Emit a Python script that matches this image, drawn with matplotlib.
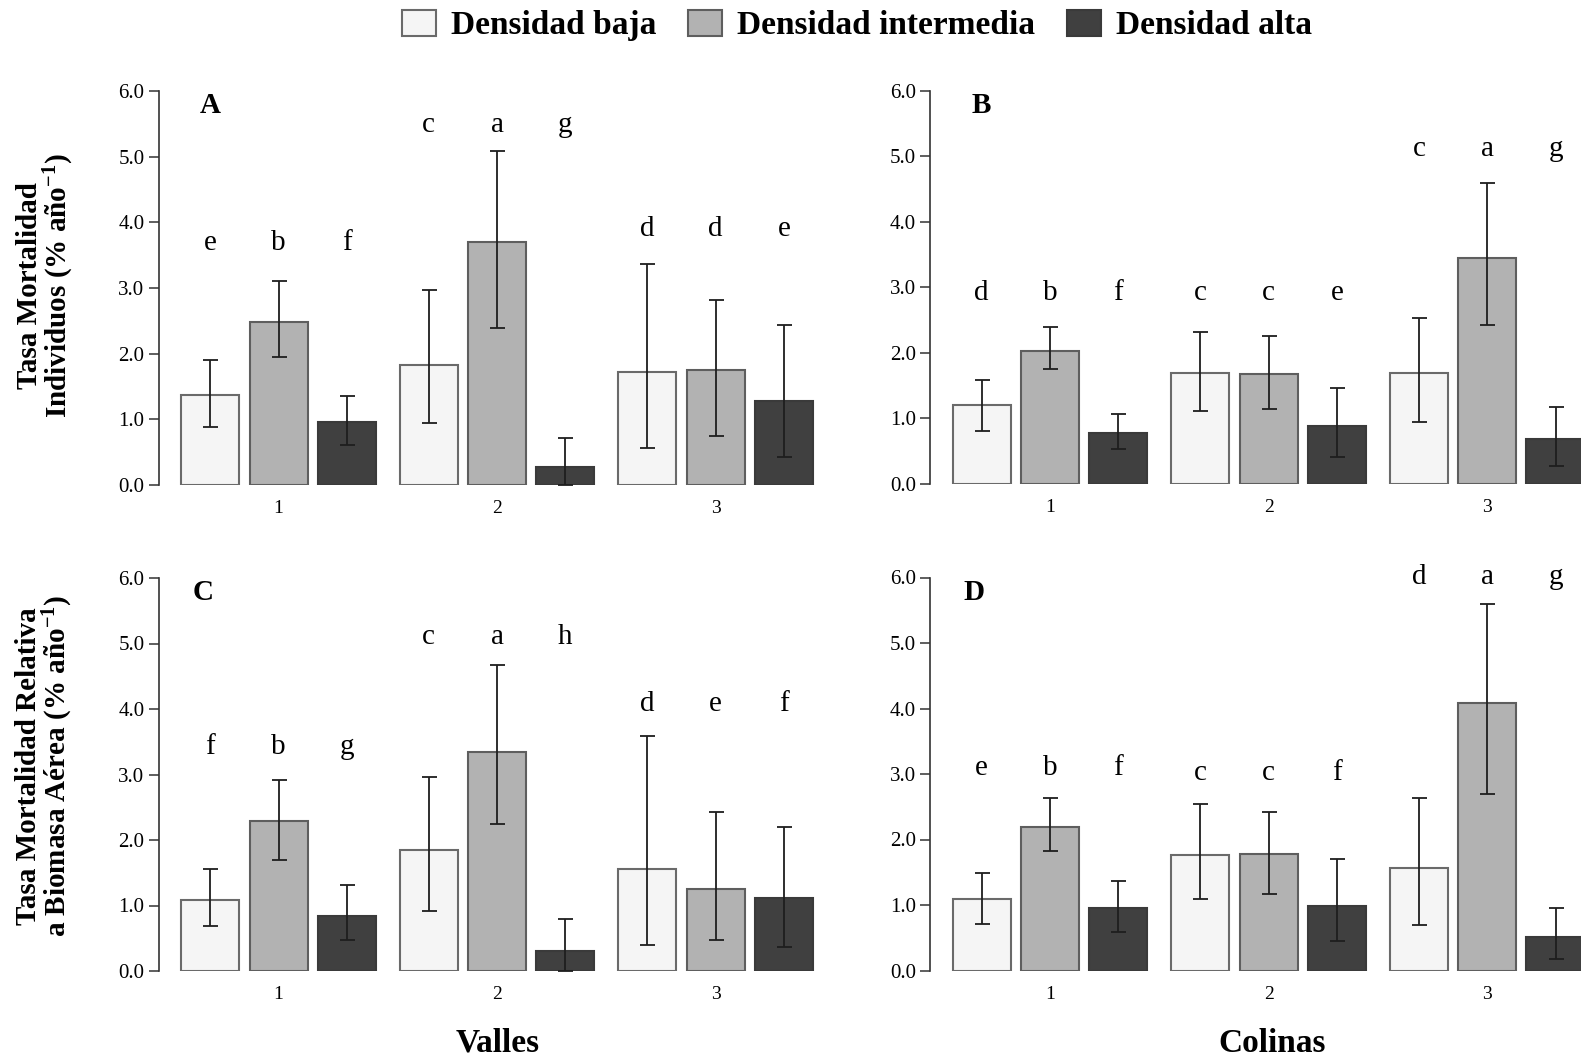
import matplotlib
matplotlib.use("Agg")
import matplotlib.pyplot as plt
from matplotlib.patches import Patch
from matplotlib.ticker import FormatStrFormatter
import numpy as np

# ---------------------------------------------------------------- data
categories = ["1", "2", "3"]
series = ["Densidad baja", "Densidad intermedia", "Densidad alta"]

# rows: baja, intermedia, alta ; columns: sites 1, 2, 3
a_mean = [[1.37, 1.83, 1.72], [2.48, 3.70, 1.75], [0.96, 0.27, 1.28]]
a_lo = [[0.89, 0.95, 0.57], [1.95, 2.39, 0.75], [0.61, 0.00, 0.43]]
a_hi = [[1.91, 2.97, 3.37], [3.10, 5.08, 2.81], [1.35, 0.72, 2.43]]
a_letters = [["e", "c", "d"], ["b", "a", "d"], ["f", "g", "e"]]
a_letter_y = [3.58, 5.37, 3.79]

b_mean = [[1.20, 1.70, 1.69], [2.03, 1.68, 3.45], [0.78, 0.89, 0.68]]
b_lo = [[0.81, 1.12, 0.94], [1.75, 1.15, 2.42], [0.53, 0.41, 0.27]]
b_hi = [[1.59, 2.32, 2.53], [2.39, 2.25, 4.59], [1.06, 1.47, 1.18]]
b_letters = [["d", "c", "c"], ["b", "c", "a"], ["f", "e", "g"]]
b_letter_y = [2.81, 2.81, 5.00]

c_mean = [[1.09, 1.85, 1.55], [2.29, 3.35, 1.25], [0.84, 0.30, 1.11]]
c_lo = [[0.69, 0.92, 0.39], [1.69, 2.24, 0.47], [0.47, 0.00, 0.36]]
c_hi = [[1.56, 2.96, 3.59], [2.91, 4.67, 2.42], [1.31, 0.79, 2.20]]
c_letters = [["f", "c", "d"], ["b", "a", "e"], ["g", "h", "f"]]
c_letter_y = [3.32, 5.00, 3.97]

d_mean = [[1.09, 1.76, 1.56], [2.19, 1.78, 4.09], [0.95, 0.99, 0.51]]
d_lo = [[0.71, 1.09, 0.69], [1.83, 1.17, 2.69], [0.59, 0.45, 0.18]]
d_hi = [[1.49, 2.54, 2.64], [2.64, 2.42, 5.60], [1.36, 1.70, 0.96]]
d_letters = [["e", "c", "d"], ["b", "c", "a"], ["f", "f", "g"]]
d_letter_y = [2.98, 2.91, 5.90]

yticks = [0, 1, 2, 3, 4, 5, 6]

# ---------------------------------------------------------------- style
plt.rcParams["font.family"] = ["Liberation Serif", "DejaVu Serif"]
plt.rcParams["mathtext.fontset"] = "custom"
plt.rcParams["mathtext.rm"] = "Liberation Serif:bold"
plt.rcParams["mathtext.it"] = "Liberation Serif:italic:bold"
plt.rcParams["mathtext.bf"] = "Liberation Serif:bold"

face = ["#f5f5f5", "#b2b2b2", "#404040"]
edge = ["#6a6a6a", "#5e5e5e", "#3a3a3a"]
spine_col = "#333333"

W, H = 1581, 1057
fig = plt.figure(figsize=(W / 100, H / 100), dpi=100)


def axes_px(left, top, width, height):
    return fig.add_axes([left / W, 1 - (top + height) / H, width / W, height / H])


group_pos = np.array([0.0, 3.2, 6.4])
offsets = [-1.0, 0.0, 1.0]


def draw_panel(ax, mean, lo, hi, letters, letter_y, tag, tag_x):
    mean, lo, hi = np.array(mean), np.array(lo), np.array(hi)
    for s in range(3):
        x = group_pos + offsets[s]
        ax.bar(x, mean[s], width=0.85, color=face[s], edgecolor=edge[s],
               linewidth=1.5, zorder=2)
        yerr = np.vstack([mean[s] - lo[s], hi[s] - mean[s]])
        ax.errorbar(x, mean[s], yerr=yerr, fmt="none", ecolor="#1e1e1e",
                    elinewidth=1.3, capsize=5.4, capthick=1.3, zorder=3)
        for g in range(3):
            ax.text(x[g], letter_y[g], letters[s][g], ha="center",
                    va="baseline", fontsize=21, color="black")
    ax.text(tag_x, 5.66, tag, ha="center", va="baseline", fontsize=21,
            fontweight="bold")
    ax.set_xlim(-1.75, 8.0)
    ax.set_ylim(0, 6)
    ax.set_yticks(yticks)
    ax.yaxis.set_major_formatter(FormatStrFormatter("%.1f"))
    ax.set_xticks(group_pos, categories)
    ax.tick_params(axis="x", length=0, pad=11, labelsize=14)
    ax.tick_params(axis="y", length=7.2, width=1.1, pad=3.3, labelsize=15,
                   color=spine_col)
    for side in ("top", "right", "bottom"):
        ax.spines[side].set_visible(False)
    ax.spines["left"].set_color(spine_col)
    ax.spines["left"].set_linewidth(1.2)
    ax.patch.set_alpha(0)


axA = axes_px(159, 91, 666, 394)
axB = axes_px(930.5, 90.5, 666, 393.5)
axC = axes_px(159, 578, 666, 393)
axD = axes_px(930.5, 577.5, 666, 393)

draw_panel(axA, a_mean, a_lo, a_hi, a_letters, a_letter_y, "A", -1.0)
draw_panel(axB, b_mean, b_lo, b_hi, b_letters, b_letter_y, "B", -1.0)
draw_panel(axC, c_mean, c_lo, c_hi, c_letters, c_letter_y, "C", -1.1)
draw_panel(axD, d_mean, d_lo, d_hi, d_letters, d_letter_y, "D", -1.12)

# y-axis titles
fig.text(46.4 / W, 1 - 285.5 / H,
         "Tasa Mortalidad\nIndividuos (% año$^{-1}$)",
         rotation=90, ha="center", va="center", multialignment="center",
         fontsize=21, fontweight="bold", linespacing=0.95)
fig.text(45.4 / W, 1 - 766 / H,
         "Tasa Mortalidad Relativa\na Biomasa Aérea (% año$^{-1}$)",
         rotation=90, ha="center", va="center", multialignment="center",
         fontsize=21, fontweight="bold", linespacing=0.95)

# landscape titles
fig.text(498 / W, 1 - 1043 / H, "Valles", ha="center", va="center",
         fontsize=24, fontweight="bold")
fig.text(1272 / W, 1 - 1043 / H, "Colinas", ha="center", va="center",
         fontsize=24, fontweight="bold")

# legend
handles = [Patch(facecolor=face[i], edgecolor=edge[i], linewidth=1.5)
           for i in range(3)]
fig.legend(handles, series, loc="center left",
           bbox_to_anchor=(402 / W, 1 - 25.5 / H), ncol=3, frameon=False,
           prop={"family": "Liberation Serif", "weight": "bold", "size": 24},
           handlelength=1.02, handleheight=0.81, handletextpad=0.45,
           columnspacing=0.95, borderpad=0, borderaxespad=0)

fig.savefig("out.png", dpi=100)
